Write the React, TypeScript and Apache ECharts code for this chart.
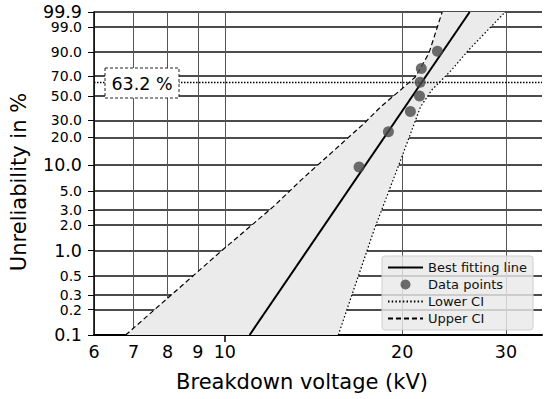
import React, { useEffect, useRef } from "react";
import * as echarts from "echarts";

// ---- tick labels ----
const xTickValues = [6, 7, 8, 9, 10, 20, 30];
const xMajorTicks = [10];
const yTickValues = [0.1, 0.2, 0.3, 0.5, 1, 2, 3, 5, 10, 20, 30, 50, 70, 90, 99, 99.9];
const yMajorTicks = [0.1, 1, 10, 99.9];
const yCrowdedTicks = [99]; // labels that sit right next to the top label

// ---- data points (kV, unreliability %) ----
const dataVoltage = [16.9, 18.95, 20.65, 21.4, 21.45, 21.55, 22.95];
const dataUnreliability = [9.46, 22.97, 36.49, 50.0, 63.51, 77.03, 90.54];

// ---- best fitting line ----
const fitVoltage = [11.02, 26.03];
const fitUnreliability = [0.1, 99.9];

// ---- confidence bounds ----
const upperCIVoltage = [6.79, 9.88, 12.09, 13.47, 17.24, 18.4, 19.96, 21.07, 22.2, 23.38];
const upperCIUnreliability = [0.1, 1.0, 3.3, 6.7, 28.0, 40.4, 56.8, 69.1, 89.3, 99.9];
const lowerCIVoltage = [15.58, 17.92, 19.88, 21.49, 22.45, 24.25, 25.93, 29.9];
const lowerCIUnreliability = [0.1, 1.76, 11.3, 40.4, 55.8, 75.6, 91.3, 99.9];

const characteristicLevel = 63.2;

const xRange = [6, 34.53];
const yRange = [0.1, 99.9];

const FONT = "DejaVu Sans";

const tx = (v: number) => Math.log10(v);
const ty = (p: number) => Math.log(-Math.log(1 - p / 100));

const nearest = (arr: number[], f: (n: number) => number, val: number) => {
  let best = arr[0];
  let bd = Infinity;
  for (const t of arr) {
    const d = Math.abs(f(t) - val);
    if (d < bd) {
      bd = d;
      best = t;
    }
  }
  return best;
};

const pairs = (xs: number[], ys: number[]) => xs.map((x, i) => [tx(x), ty(ys[i])]);

export default function App() {
  const ref = useRef<HTMLDivElement>(null);
  useEffect(() => {
    if (!ref.current) return;
    const chart = echarts.init(ref.current, null, { renderer: "svg" });

    const upper = pairs(upperCIVoltage, upperCIUnreliability);
    const lower = pairs(lowerCIVoltage, lowerCIUnreliability);
    const band = [...upper, ...lower.slice().reverse()];

    const eps = 1e-6;
    const xMin = tx(xRange[0]) - eps;
    const xMax = tx(xRange[1]);
    const yMin = ty(yRange[0]) - eps;
    const yMax = ty(yRange[1]) + eps;

    const yLabelFormatter = (val: number) => {
      const t = nearest(yTickValues, ty, val);
      const s = t.toFixed(1);
      return yMajorTicks.includes(t) ? `{big|${s}}` : `{small|${s}}`;
    };
    const yRich = {
      big: { fontSize: 17.5, lineHeight: 13, fontFamily: FONT, color: "#000" },
      small: { fontSize: 14, lineHeight: 11, fontFamily: FONT, color: "#000" },
    };
    const mainYTicks = yTickValues.filter((t) => !yCrowdedTicks.includes(t)).map(ty);

    const option: any = {
      animation: false,
      backgroundColor: "#ffffff",
      grid: { left: 92, right: 8, top: 12, bottom: 64 },
      xAxis: [
        {
          type: "value",
          min: xMin,
          max: xMax,
          name: "Breakdown voltage (kV)",
          nameLocation: "middle",
          nameGap: 36,
          nameTextStyle: { fontFamily: FONT, fontSize: 21, color: "#000", padding: [0, 32, 0, 0] },
          axisLine: { show: true, onZero: false, lineStyle: { color: "#000", width: 2 } },
          axisTick: { show: false, customValues: xTickValues.map(tx) },
          axisLabel: {
            customValues: xTickValues.map(tx),
            showMinLabel: true,
            showMaxLabel: true,
            fontFamily: FONT,
            fontSize: 17.5,
            color: "#000",
            margin: 8,
            formatter: (val: number) => String(nearest(xTickValues, tx, val)),
          },
          splitLine: { show: true, lineStyle: { color: "#555", width: 1 } },
        },
        {
          type: "value",
          min: xMin,
          max: xMax,
          position: "bottom",
          axisLine: { show: false, onZero: false },
          axisLabel: { show: false },
          splitLine: { show: false },
          axisTick: {
            show: true,
            customValues: xMajorTicks.map(tx),
            length: 7,
            lineStyle: { color: "#000", width: 1.5 },
          },
        },
      ],
      yAxis: [
        {
          type: "value",
          min: yMin,
          max: yMax,
          name: "Unreliability in %",
          nameLocation: "middle",
          nameGap: 65,
          nameTextStyle: { fontFamily: FONT, fontSize: 21, color: "#000", padding: [0, 17, 0, 0] },
          axisLine: { show: true, onZero: false, lineStyle: { color: "#000", width: 1.5 } },
          axisTick: { show: true, length: 6, customValues: yTickValues.map(ty), lineStyle: { color: "#000", width: 1 } },
          axisLabel: {
            customValues: mainYTicks,
            showMinLabel: true,
            showMaxLabel: true,
            hideOverlap: false,
            margin: 12,
            color: "#000",
            fontFamily: FONT,
            formatter: yLabelFormatter,
            rich: yRich,
          },
          splitLine: { show: true, lineStyle: { color: "#111", width: 1.5 } },
        },
        {
          type: "value",
          min: yMin,
          max: yMax,
          position: "left",
          offset: 0,
          axisLine: { show: false, onZero: false },
          splitLine: { show: false },
          axisTick: { show: false, customValues: yCrowdedTicks.map(ty) },
          axisLabel: {
            customValues: yCrowdedTicks.map(ty),
            showMinLabel: true,
            showMaxLabel: true,
            margin: 12,
            color: "#000",
            fontFamily: FONT,
            formatter: yLabelFormatter,
            rich: yRich,
          },
        },
      ],
      legend: {
        orient: "vertical",
        left: 382,
        top: 256,
        padding: [5, 6, 5, 5],
        itemWidth: 35,
        itemHeight: 10,
        itemGap: 4,
        backgroundColor: "rgba(233,233,233,0.82)",
        borderColor: "#cfcfcf",
        borderWidth: 1,
        borderRadius: 3,
        textStyle: { fontFamily: FONT, fontSize: 13, color: "#111" },
        data: [
          { name: "Best fitting line", itemStyle: { opacity: 0 } },
          { name: "Data points" },
          { name: "Lower CI", itemStyle: { opacity: 0 } },
          { name: "Upper CI", itemStyle: { opacity: 0 } },
        ],
      },
      series: [
        {
          type: "custom",
          name: "band",
          silent: true,
          clip: true,
          z: 1,
          data: band,
          renderItem: (params: any, api: any) => {
            if (params.dataIndex !== 0) return null;
            const pts = band.map((p) => api.coord(p));
            return {
              type: "polygon",
              shape: { points: pts },
              style: { fill: "#ebebeb", stroke: "none" },
            };
          },
        },
        {
          type: "line",
          name: "Best fitting line",
          data: pairs(fitVoltage, fitUnreliability),
          symbol: "none",
          z: 4,
          lineStyle: { color: "#000", width: 2 },
          itemStyle: { color: "#000" },
          markLine: {
            silent: true,
            symbol: "none",
            label: { show: false },
            lineStyle: { color: "#000", type: [1.5, 1.5], width: 1.3 },
            data: [{ yAxis: ty(characteristicLevel) }],
          },
        },
        {
          type: "scatter",
          name: "Data points",
          data: pairs(dataVoltage, dataUnreliability),
          symbol: "circle",
          symbolSize: 11,
          z: 5,
          itemStyle: { color: "#4a4a4a" },
        },
        {
          type: "line",
          name: "Lower CI",
          data: lower,
          symbol: "none",
          z: 3,
          lineStyle: { color: "#000", width: 1.2, type: [1.5, 2.2] },
          itemStyle: { color: "#000" },
        },
        {
          type: "line",
          name: "Upper CI",
          data: upper,
          symbol: "none",
          z: 3,
          lineStyle: { color: "#000", width: 1.2, type: [5, 3] },
          itemStyle: { color: "#000" },
        },
      ],
      graphic: [
        {
          type: "rect",
          z: 100,
          shape: { x: 105, y: 68, width: 74, height: 30 },
          style: { fill: "#ffffff", stroke: "#222", lineWidth: 1, lineDash: [3, 2] },
        },
        {
          type: "text",
          z: 101,
          x: 142,
          y: 83.5,
          style: {
            text: "63.2 %",
            fontFamily: FONT,
            fontSize: 17.5,
            fill: "#000",
            align: "center",
            verticalAlign: "middle",
          },
        },
      ],
    };

    chart.setOption(option);
    return () => chart.dispose();
  }, []);

  return (
    <div
      ref={ref}
      style={{ position: "fixed", left: 0, top: 0, width: 550, height: 399, background: "#fff" }}
    />
  );
}
